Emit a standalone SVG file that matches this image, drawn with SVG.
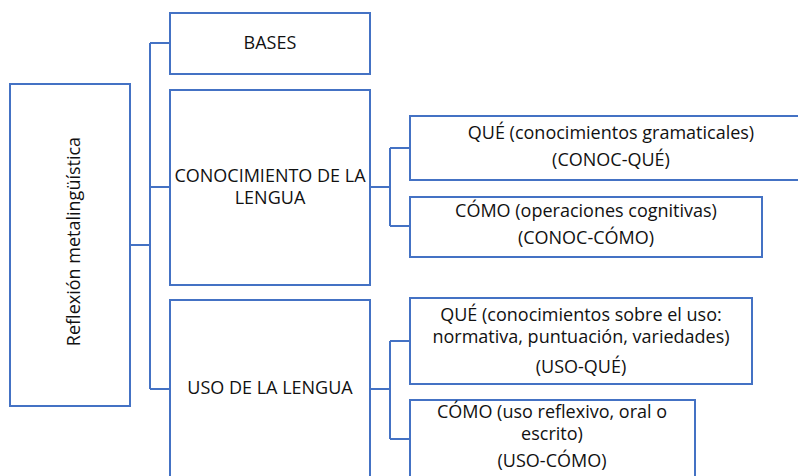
<svg xmlns="http://www.w3.org/2000/svg" width="798" height="476" viewBox="0 0 798 476">
  <style>
    .box { fill: #ffffff; stroke: #4472C4; stroke-width: 2; }
    .conn { fill: none; stroke: #4472C4; stroke-width: 2; }
    text { font-family: "Open Sans", "Noto Sans", "Liberation Sans", sans-serif; font-size: 18px; fill: #111111; text-anchor: middle; }
  </style>
  <rect x="0" y="0" width="798" height="476" fill="#ffffff"/>
  <g id="connectors">
    <path class="conn" d="M130,245 H150 M150,43 V389 M150,43 H170 M150,187 H170 M150,389 H170"/>
    <path class="conn" d="M370,187 H390 M390,148 V226 M390,148 H410 M390,226 H410"/>
    <path class="conn" d="M370,389 H390 M390,341 V439 M390,341 H410 M390,439 H410"/>
  </g>
  <g id="root">
    <rect class="box" x="10" y="84" width="120" height="322"/>
    <text transform="translate(80,241.5) rotate(-90)">Reflexión metalingüística</text>
  </g>
  <g id="bases">
    <rect class="box" x="170" y="13" width="200" height="61"/>
    <text x="270" y="49">BASES</text>
  </g>
  <g id="conocimiento">
    <rect class="box" x="170" y="90" width="200" height="195"/>
    <text x="270" y="182">CONOCIMIENTO DE LA</text>
    <text x="270" y="204">LENGUA</text>
  </g>
  <g id="uso">
    <rect class="box" x="170" y="300" width="200" height="178"/>
    <text x="270" y="394">USO DE LA LENGUA</text>
  </g>
  <g id="conoc-que">
    <rect class="box" x="410" y="116" width="402" height="64"/>
    <text x="611" y="139">QUÉ (conocimientos gramaticales)</text>
    <text x="611" y="166">(CONOC-QUÉ)</text>
  </g>
  <g id="conoc-como">
    <rect class="box" x="410" y="197" width="352" height="60"/>
    <text x="586" y="217">CÓMO (operaciones cognitivas)</text>
    <text x="586" y="244">(CONOC-CÓMO)</text>
  </g>
  <g id="uso-que">
    <rect class="box" x="410" y="298" width="342" height="86"/>
    <text x="581" y="321">QUÉ (conocimientos sobre el uso:</text>
    <text x="581" y="343">normativa, puntuación, variedades)</text>
    <text x="581" y="373">(USO-QUÉ)</text>
  </g>
  <g id="uso-como">
    <rect class="box" x="410" y="400" width="285" height="78"/>
    <text x="552" y="418">CÓMO (uso reflexivo, oral o</text>
    <text x="552" y="440">escrito)</text>
    <text x="552" y="467">(USO-CÓMO)</text>
  </g>
</svg>
